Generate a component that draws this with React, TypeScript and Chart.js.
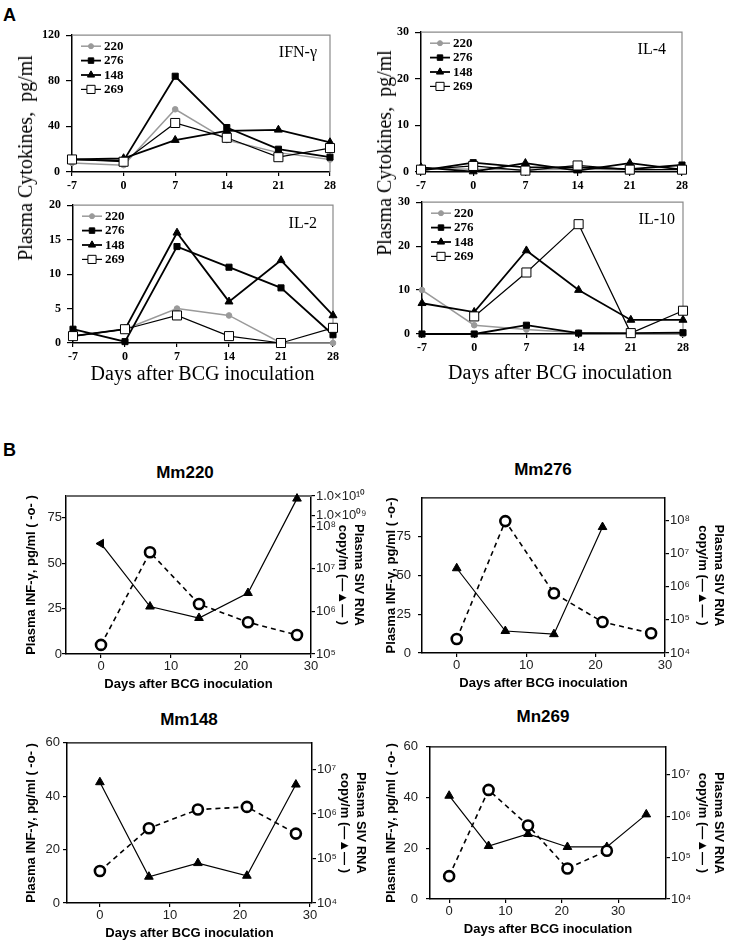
import React, { useEffect, useRef } from 'react';
import { Chart, registerables, LogarithmicScale } from 'chart.js';

Chart.register(...registerables);

// ================= DATA =================
// Panel A: plasma cytokines (pg/ml) by day after BCG inoculation
const DAYS_A = [-7, 0, 7, 14, 21, 28];
const MONKEYS = ['220', '276', '148', '269'];

const IFN_220 = [8, 6, 55, 28, 17, 11];
const IFN_276 = [11, 10, 84, 39, 20, 13];
const IFN_148 = [11, 12, 28, 36, 37, 26];
const IFN_269 = [11, 9, 43, 30, 13, 21];

const IL4_220 = [0.8, 0.6, 0.5, 0.6, 0.5, 0.6];
const IL4_276 = [0.3, 2.0, 1.0, 1.0, 0.6, 1.5];
const IL4_148 = [1.0, 0.1, 1.9, 0.3, 1.9, 0.5];
const IL4_269 = [0.5, 1.3, 0.3, 1.4, 0.5, 0.5];

const IL2_220 = [1, 2, 5, 4, 0, 0];
const IL2_276 = [2, 0.2, 14, 11, 8, 1.2];
const IL2_148 = [1, 2, 16, 6, 12, 4];
const IL2_269 = [1, 2, 4, 1, 0, 2.2];

const IL10_220 = [10, 2, 1, 0.3, 0, 0];
const IL10_276 = [0, 0, 2, 0.2, 0.2, 0.3];
const IL10_148 = [7, 5, 19, 10, 3.2, 3.2];
const IL10_269 = [null, 4, 14, 25, 0.2, 5.3];

const TICKS_IFN = [0, 40, 80, 120];
const TICKS_IL4 = [0, 10, 20, 30];
const TICKS_IL2 = [0, 5, 10, 15, 20];
const TICKS_IL10 = [0, 10, 20, 30];

// Panel B: IFN-γ (pg/ml, circles) and plasma SIV RNA (copies/ml, triangles)
const B_X_TICKS = [0, 10, 20, 30];

const MM220_IFN_DAYS = [0, 7, 14, 21, 28];
const MM220_IFN = [5, 56, 27.5, 17.5, 10.5];
const MM220_SIV_DAYS = [0, 7, 14, 21, 28];
const MM220_SIV = [3.9e7, 1.3e6, 7e5, 2.7e6, 7.4e9];
const MM220_IFN_TICKS = [0, 25, 50, 75];
const MM220_SIV_TICKS = [1e5, 1e6, 1e7, 1e8, 1e9, 1e10];

const MM276_IFN_DAYS = [0, 7, 14, 21, 28];
const MM276_IFN = [9, 85, 38.5, 20, 12.7];
const MM276_SIV_DAYS = [0, 7, 14, 21];
const MM276_SIV = [3.6e6, 4.6e4, 3.7e4, 6.3e7];
const MM276_IFN_TICKS = [0, 25, 50, 75];
const MM276_SIV_TICKS = [1e4, 1e5, 1e6, 1e7, 1e8];

const MM148_IFN_DAYS = [0, 7, 14, 21, 28];
const MM148_IFN = [12, 28, 35, 36, 26];
const MM148_SIV_DAYS = [0, 7, 14, 21, 28];
const MM148_SIV = [5.2e6, 3.9e4, 7.9e4, 4.1e4, 4.6e6];
const MM148_IFN_TICKS = [0, 20, 40, 60];
const MM148_SIV_TICKS = [1e4, 1e5, 1e6, 1e7];

const MN269_IFN_DAYS = [0, 7, 14, 21, 28];
const MN269_IFN = [9, 43, 29, 12, 19];
const MN269_SIV_DAYS = [0, 7, 14, 21, 28, 35];
const MN269_SIV = [3.1e6, 1.9e5, 3.7e5, 1.8e5, 1.8e5, 1.1e6];
const MN269_IFN_TICKS = [0, 20, 40, 60];
const MN269_SIV_TICKS = [1e4, 1e5, 1e6, 1e7];

// ================= STYLE / LAYOUT =================
const SERIF = '"Liberation Serif", "Times New Roman", serif';
const SANS = '"Liberation Sans", Arial, sans-serif';

// broken log axis for Mm220 (10^5..10^8 normal, then compressed 10^8..10^10)
const BREAK_MAP: [number, number][] = [[5, 0], [8, 0.809], [9, 0.874], [10, 1]];

class BrokenLogScale extends LogarithmicScale {
  static id = 'brokenLog';
  static defaults = {};
  getPixelForValue(value: number) {
    const v = value > 0 ? value : (this as any).min;
    const l = Math.log10(v);
    const m = BREAK_MAP;
    let i = 0;
    while (i < m.length - 2 && l > m[i + 1][0]) i++;
    const [l0, d0] = m[i];
    const [l1, d1] = m[i + 1];
    const dec = d0 + ((l - l0) / (l1 - l0)) * (d1 - d0);
    return (this as any).getPixelForDecimal(dec);
  }
}
Chart.register(BrokenLogScale as any);

const SUP: Record<string, string> = { '0': '⁰', '1': '¹', '2': '²', '3': '³', '4': '⁴', '5': '⁵', '6': '⁶', '7': '⁷', '8': '⁸', '9': '⁹' };
const sup = (s: string) => s.split('').map((c) => SUP[c] || c).join('');
const fmtPow = (v: number) => '10' + sup(String(Math.round(Math.log10(v))));
const fmtPowBroken = (v: number) => {
  const e = Math.round(Math.log10(v));
  if (e >= 9) return '1.0×10' + sup(e < 10 ? '0' + e : String(e));
  return '10' + sup(String(e));
};

type Geo = {
  L: number; T: number; R: number; B: number;
  yW: number; rW: number; xH: number;
  pad: { top: number; left: number; right: number; bottom: number };
};
const canvasRect = (g: Geo) => ({
  x: g.L - g.yW - g.pad.left,
  y: g.T - g.pad.top,
  w: g.R - g.L + g.yW + g.rW + g.pad.left + g.pad.right,
  h: g.B - g.T + g.xH + g.pad.top + g.pad.bottom,
});

const A_PAD = { top: 10, left: 4, right: 12, bottom: 2 };
const A_STYLES = [
  { color: '#9a9a9a', width: 1.5, style: 'circle', r: 2.8, fill: '#9a9a9a' },
  { color: '#000000', width: 1.8, style: 'rect', r: 4.3, fill: '#000000' },
  { color: '#000000', width: 1.8, style: 'triangle', r: 4.6, fill: '#000000' },
  { color: '#000000', width: 1.2, style: 'rect', r: 6.4, fill: '#ffffff' },
];

function drawMarker(ctx: CanvasRenderingContext2D, style: string, r: number, x: number, y: number) {
  ctx.beginPath();
  if (style === 'circle') {
    ctx.arc(x, y, r, 0, Math.PI * 2);
  } else if (style === 'rect') {
    const s = r * Math.SQRT1_2;
    ctx.rect(x - s, y - s, 2 * s, 2 * s);
  } else {
    for (let k = 0; k < 3; k++) {
      const a = (k * 2 * Math.PI) / 3;
      const px = x + Math.sin(a) * r;
      const py = y - Math.cos(a) * r;
      if (k === 0) ctx.moveTo(px, py);
      else ctx.lineTo(px, py);
    }
    ctx.closePath();
  }
  ctx.fill();
  ctx.stroke();
}

function framePlugin(color: string, width: number, right: boolean) {
  return {
    id: 'frame',
    beforeDatasetsDraw(chart: any) {
      const { ctx, chartArea: a } = chart;
      ctx.save();
      ctx.strokeStyle = color;
      ctx.lineWidth = width;
      ctx.beginPath();
      ctx.moveTo(a.left, a.top);
      ctx.lineTo(a.right, a.top);
      if (right) ctx.lineTo(a.right, a.bottom);
      ctx.stroke();
      ctx.restore();
    },
  };
}

function cytoLegendPlugin(name: string, nameRightOff: number, nameTopOff: number) {
  return {
    id: 'cytoLegend',
    afterDatasetsDraw(chart: any) {
      const { ctx, chartArea: a } = chart;
      ctx.save();
      chart.data.datasets.forEach((ds: any, i: number) => {
        const s = A_STYLES[i];
        const y = a.top + 11 + i * 14.4;
        const x0 = a.left + 9;
        const x1 = a.left + 29;
        ctx.strokeStyle = s.color;
        ctx.lineWidth = s.width;
        ctx.beginPath();
        ctx.moveTo(x0, y);
        ctx.lineTo(x1, y);
        ctx.stroke();
        ctx.fillStyle = s.fill;
        ctx.strokeStyle = s.color;
        ctx.lineWidth = 1;
        drawMarker(ctx, s.style, s.r * 0.9, (x0 + x1) / 2, y);
        ctx.fillStyle = '#000';
        ctx.font = `bold 13px ${SERIF}`;
        ctx.textAlign = 'left';
        ctx.textBaseline = 'middle';
        ctx.fillText(ds.label, a.left + 32, y + 0.5);
      });
      ctx.font = `16px ${SERIF}`;
      ctx.textAlign = 'right';
      ctx.textBaseline = 'middle';
      ctx.fillStyle = '#000';
      ctx.fillText(name, a.right - nameRightOff, a.top + nameTopOff);
      ctx.restore();
    },
  };
}

function cytoConfig(name: string, series: (number | null)[][], ticks: number[], geo: Geo, nameRightOff: number, nameTopOff: number) {
  const datasets = series.map((vals, i) => {
    const s = A_STYLES[i];
    return {
      label: MONKEYS[i],
      data: DAYS_A.map((d, j) => ({ x: d, y: vals[j] })),
      borderColor: s.color,
      borderWidth: s.width,
      backgroundColor: s.fill,
      pointStyle: s.style,
      pointRadius: s.r,
      pointBackgroundColor: s.fill,
      pointBorderColor: s.color,
      pointBorderWidth: 1,
      order: 3 - i,
      clip: false,
      spanGaps: false,
      tension: 0,
    };
  });
  const tickFont = { family: SERIF, size: 12, weight: 'bold' as const };
  return {
    type: 'line' as const,
    data: { datasets },
    options: {
      animation: false as const,
      responsive: false,
      devicePixelRatio: 1,
      layout: { padding: geo.pad },
      plugins: { legend: { display: false }, tooltip: { enabled: false }, title: { display: false } },
      scales: {
        x: {
          type: 'linear' as const,
          min: DAYS_A[0],
          max: DAYS_A[DAYS_A.length - 1],
          afterBuildTicks: (s: any) => { s.ticks = DAYS_A.map((v) => ({ value: v })); },
          afterFit: (s: any) => { s.height = geo.xH; },
          grid: { display: true, drawOnChartArea: false, drawTicks: true, tickLength: 4, color: '#000', lineWidth: 1.2 },
          border: { display: true, color: '#000', width: 1.5 },
          ticks: { autoSkip: false, maxRotation: 0, padding: 3, color: '#000', font: tickFont, callback: (v: any) => String(v) },
        },
        y: {
          type: 'linear' as const,
          min: 0,
          max: ticks[ticks.length - 1],
          afterBuildTicks: (s: any) => { s.ticks = ticks.map((v) => ({ value: v })); },
          afterFit: (s: any) => { s.width = geo.yW; },
          grid: { display: true, drawOnChartArea: false, drawTicks: true, tickLength: 6, color: '#000', lineWidth: 1.2 },
          border: { display: true, color: '#000', width: 1.5 },
          ticks: { autoSkip: false, padding: 6, color: '#000', font: tickFont, callback: (v: any) => String(v) },
        },
      },
    },
    plugins: [framePlugin('#8a8a8a', 1.2, true), cytoLegendPlugin(name, nameRightOff, nameTopOff)],
  };
}

type BSpec = {
  ifnDays: number[]; ifn: number[]; sivDays: number[]; siv: number[];
  ifnTicks: number[]; ifnMax: number; sivTicks: number[];
  sivType: string; sivMin: number; sivMax: number; fmt: (v: number) => string;
  xMin: number; xMax: number; leftGap: number; ifnTitle: string;
  frameColor: string; frameWidth: number; firstTriRot: number;
};

function bConfig(spec: BSpec, geo: Geo) {
  const tickFont = { family: SANS, size: 13 };
  const titleFont = { family: SANS, size: 13, weight: 'bold' as const };
  return {
    type: 'line' as const,
    data: {
      datasets: [
        {
          label: 'IFN-γ',
          data: spec.ifnDays.map((d, i) => ({ x: d, y: spec.ifn[i] })),
          yAxisID: 'y',
          borderColor: '#000',
          borderWidth: 1.6,
          borderDash: [5, 4],
          pointStyle: 'circle',
          pointRadius: 5,
          pointBorderWidth: 2.6,
          pointBackgroundColor: '#fff',
          pointBorderColor: '#000',
          order: 0,
          clip: false,
          tension: 0,
        },
        {
          label: 'SIV RNA',
          data: spec.sivDays.map((d, i) => ({ x: d, y: spec.siv[i] })),
          yAxisID: 'y2',
          borderColor: '#000',
          borderWidth: 1.2,
          pointStyle: 'triangle',
          pointRadius: 5,
          pointBorderWidth: 1,
          pointBackgroundColor: '#000',
          pointBorderColor: '#000',
          pointRotation: spec.siv.map((_, i) => (i === 0 ? spec.firstTriRot : 0)),
          order: 1,
          clip: false,
          tension: 0,
        },
      ],
    },
    options: {
      animation: false as const,
      responsive: false,
      devicePixelRatio: 1,
      layout: { padding: geo.pad },
      plugins: { legend: { display: false }, tooltip: { enabled: false }, title: { display: false } },
      scales: {
        x: {
          type: 'linear' as const,
          min: spec.xMin,
          max: spec.xMax,
          afterBuildTicks: (s: any) => { s.ticks = B_X_TICKS.map((v) => ({ value: v })); },
          afterFit: (s: any) => { s.height = geo.xH; },
          grid: { display: true, drawOnChartArea: false, drawTicks: true, tickLength: 4, color: '#000', lineWidth: 1.2 },
          border: { display: true, color: '#000', width: 1.5 },
          ticks: { autoSkip: false, maxRotation: 0, padding: 1, color: '#222', font: tickFont, callback: (v: any) => String(v) },
          title: { display: true, text: 'Days after BCG inoculation', font: titleFont, color: '#000', padding: 0 },
        },
        y: {
          type: 'linear' as const,
          position: 'left' as const,
          min: 0,
          max: spec.ifnMax,
          afterBuildTicks: (s: any) => { s.ticks = spec.ifnTicks.map((v) => ({ value: v })); },
          afterFit: (s: any) => { s.width = geo.yW; },
          grid: { display: true, drawOnChartArea: false, drawTicks: true, tickLength: 4, color: '#000', lineWidth: 1.2 },
          border: { display: true, color: '#000', width: 1.5 },
          ticks: { autoSkip: false, padding: spec.leftGap, color: '#222', font: tickFont, callback: (v: any) => String(v) },
          title: { display: true, text: spec.ifnTitle, font: titleFont, color: '#000', padding: 0 },
        },
        y2: {
          type: spec.sivType as any,
          position: 'right' as const,
          min: spec.sivMin,
          max: spec.sivMax,
          afterBuildTicks: (s: any) => { s.ticks = spec.sivTicks.map((v) => ({ value: v })); },
          afterFit: (s: any) => { s.width = geo.rW; },
          grid: { display: true, drawOnChartArea: false, drawTicks: true, tickLength: 4, color: '#000', lineWidth: 1.2 },
          border: { display: true, color: '#000', width: 1.5 },
          ticks: { autoSkip: false, padding: 1, color: '#222', font: tickFont, callback: (v: any) => spec.fmt(Number(v)) },
          title: { display: true, text: ['Plasma SIV RNA', 'copy/m (—▲— )'], font: titleFont, color: '#000', padding: 0 },
        },
      },
    },
    plugins: [framePlugin(spec.frameColor, spec.frameWidth, false)],
  };
}

// geometry of every plot area (page coordinates)
const B_PAD = { top: 10, left: 4, right: 4, bottom: 4 };
const GEO_IFN: Geo = { L: 72, T: 32, R: 330, B: 172, yW: 40, rW: 0, xH: 22, pad: A_PAD };
const GEO_IL4: Geo = { L: 421, T: 29, R: 682, B: 172, yW: 40, rW: 0, xH: 22, pad: A_PAD };
const GEO_IL2: Geo = { L: 73, T: 202, R: 333, B: 343, yW: 40, rW: 0, xH: 22, pad: A_PAD };
const GEO_IL10: Geo = { L: 422, T: 199, R: 683, B: 334, yW: 40, rW: 0, xH: 22, pad: A_PAD };
const GEO_220: Geo = { L: 66, T: 496, R: 311, B: 654, yW: 42, rW: 55, xH: 38, pad: B_PAD };
const GEO_276: Geo = { L: 422, T: 493, R: 665, B: 653, yW: 38, rW: 61, xH: 38, pad: B_PAD };
const GEO_148: Geo = { L: 67, T: 742, R: 312, B: 903, yW: 43, rW: 56, xH: 38, pad: B_PAD };
const GEO_269: Geo = { L: 430, T: 741, R: 666, B: 899, yW: 46, rW: 60, xH: 38, pad: B_PAD };

const CHARTS: { key: string; geo: Geo; make: () => any }[] = [
  { key: 'ifn', geo: GEO_IFN, make: () => cytoConfig('IFN-γ', [IFN_220, IFN_276, IFN_148, IFN_269], TICKS_IFN, GEO_IFN, 13, 18) },
  { key: 'il4', geo: GEO_IL4, make: () => cytoConfig('IL-4', [IL4_220, IL4_276, IL4_148, IL4_269], TICKS_IL4, GEO_IL4, 16, 18) },
  { key: 'il2', geo: GEO_IL2, make: () => cytoConfig('IL-2', [IL2_220, IL2_276, IL2_148, IL2_269], TICKS_IL2, GEO_IL2, 16, 19) },
  { key: 'il10', geo: GEO_IL10, make: () => cytoConfig('IL-10', [IL10_220, IL10_276, IL10_148, IL10_269], TICKS_IL10, GEO_IL10, 8, 18) },
  {
    key: 'b220', geo: GEO_220, make: () => bConfig({
      ifnDays: MM220_IFN_DAYS, ifn: MM220_IFN, sivDays: MM220_SIV_DAYS, siv: MM220_SIV,
      ifnTicks: MM220_IFN_TICKS, ifnMax: 87, sivTicks: MM220_SIV_TICKS,
      sivType: 'brokenLog', sivMin: 1e5, sivMax: 1e10, fmt: fmtPowBroken,
      xMin: -5, xMax: 30, leftGap: 0, ifnTitle: 'Plasma INF-γ, pg/ml ( -o- )',
      frameColor: '#6a6a6a', frameWidth: 2, firstTriRot: -90,
    }, GEO_220),
  },
  {
    key: 'b276', geo: GEO_276, make: () => bConfig({
      ifnDays: MM276_IFN_DAYS, ifn: MM276_IFN, sivDays: MM276_SIV_DAYS, siv: MM276_SIV,
      ifnTicks: MM276_IFN_TICKS, ifnMax: 100, sivTicks: MM276_SIV_TICKS,
      sivType: 'logarithmic', sivMin: 1e4, sivMax: 4.8e8, fmt: fmtPow,
      xMin: -5, xMax: 30, leftGap: 7, ifnTitle: 'Plasma INF-γ, pg/ml ( -o-)',
      frameColor: '#000', frameWidth: 1.2, firstTriRot: 0,
    }, GEO_276),
  },
  {
    key: 'b148', geo: GEO_148, make: () => bConfig({
      ifnDays: MM148_IFN_DAYS, ifn: MM148_IFN, sivDays: MM148_SIV_DAYS, siv: MM148_SIV,
      ifnTicks: MM148_IFN_TICKS, ifnMax: 60, sivTicks: MM148_SIV_TICKS,
      sivType: 'logarithmic', sivMin: 1e4, sivMax: 4e7, fmt: fmtPow,
      xMin: -4.7, xMax: 30.3, leftGap: 3, ifnTitle: 'Plasma INF-γ, pg/ml ( -o- )',
      frameColor: '#000', frameWidth: 1.2, firstTriRot: 0,
    }, GEO_148),
  },
  {
    key: 'b269', geo: GEO_269, make: () => bConfig({
      ifnDays: MN269_IFN_DAYS, ifn: MN269_IFN, sivDays: MN269_SIV_DAYS, siv: MN269_SIV,
      ifnTicks: MN269_IFN_TICKS, ifnMax: 60, sivTicks: MN269_SIV_TICKS,
      sivType: 'logarithmic', sivMin: 1e4, sivMax: 4.7e7, fmt: fmtPow,
      xMin: -3.4, xMax: 38.5, leftGap: 8, ifnTitle: 'Plasma INF-γ, pg/ml ( -o- )',
      frameColor: '#000', frameWidth: 1.2, firstTriRot: 0,
    }, GEO_269),
  },
];

const LABELS: { text: string; x: number; y: number; font: string; rot?: number }[] = [
  { text: 'A', x: 9.5, y: 15, font: `bold 18px ${SANS}` },
  { text: 'B', x: 9.5, y: 450, font: `bold 18px ${SANS}` },
  { text: 'Plasma Cytokines,  pg/ml', x: 25, y: 158, font: `20px ${SERIF}`, rot: -90 },
  { text: 'Plasma Cytokines,  pg/ml', x: 384, y: 153, font: `20px ${SERIF}`, rot: -90 },
  { text: 'Days after BCG inoculation', x: 202.5, y: 373, font: `20px ${SERIF}` },
  { text: 'Days after BCG inoculation', x: 560, y: 371.5, font: `20px ${SERIF}` },
  { text: 'Mm220', x: 185, y: 471.5, font: `bold 17px ${SANS}` },
  { text: 'Mm276', x: 543, y: 469, font: `bold 17px ${SANS}` },
  { text: 'Mm148', x: 189, y: 719, font: `bold 17px ${SANS}` },
  { text: 'Mn269', x: 543, y: 716, font: `bold 17px ${SANS}` },
];

function ChartCanvas({ geo, make }: { geo: Geo; make: () => any }) {
  const ref = useRef<HTMLCanvasElement | null>(null);
  const r = canvasRect(geo);
  useEffect(() => {
    if (!ref.current) return;
    const chart = new Chart(ref.current, make());
    return () => chart.destroy();
  }, []);
  return (
    <canvas
      ref={ref}
      width={r.w}
      height={r.h}
      style={{ position: 'absolute', left: r.x, top: r.y, width: r.w, height: r.h }}
    />
  );
}

export default function App() {
  return (
    <div style={{ position: 'absolute', left: 0, top: 0, width: 731, height: 946, background: '#fff', overflow: 'hidden' }}>
      {CHARTS.map((c) => (
        <ChartCanvas key={c.key} geo={c.geo} make={c.make} />
      ))}
      {LABELS.map((l, i) => (
        <div
          key={i}
          style={{
            position: 'absolute',
            left: l.x,
            top: l.y,
            font: l.font,
            lineHeight: 1,
            color: '#000',
            whiteSpace: 'pre',
            transform: `translate(-50%, -50%)${l.rot ? ` rotate(${l.rot}deg)` : ''}`,
          }}
        >
          {l.text}
        </div>
      ))}
    </div>
  );
}
